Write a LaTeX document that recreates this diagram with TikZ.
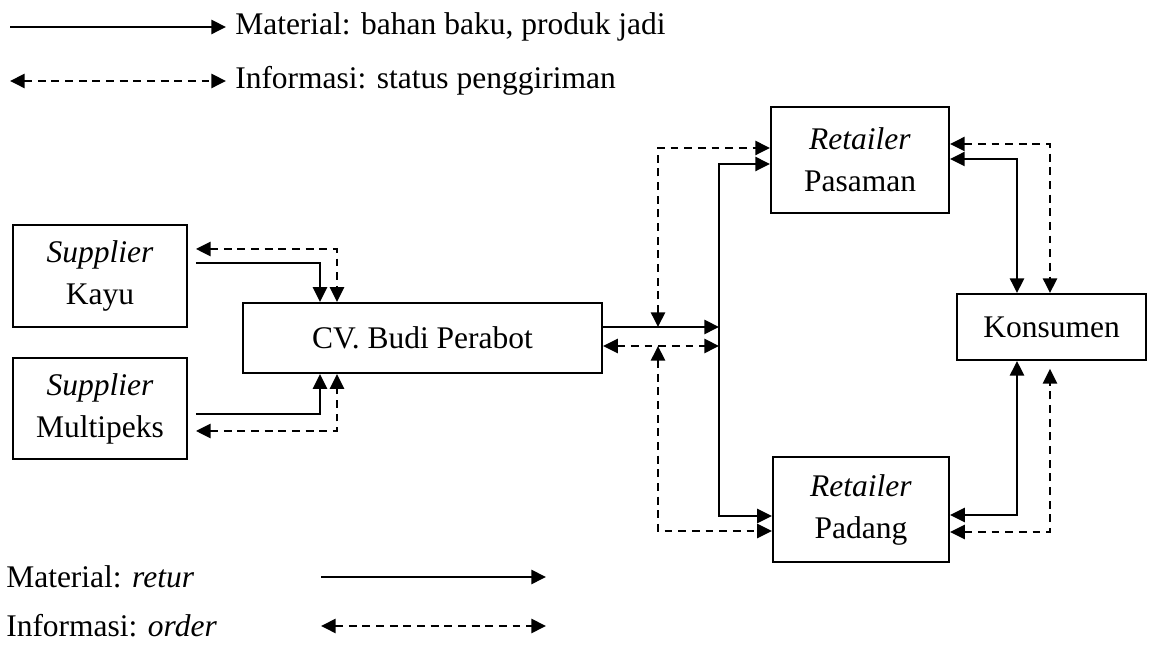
\documentclass[tikz,border=0pt]{standalone}
\usepackage{fontspec}
\setmainfont{Liberation Serif}
\usetikzlibrary{arrows.meta}

\begin{document}
\begin{tikzpicture}
        [
            x = 0.381pt, y = -0.381pt,
            every node/.style = {font = \fontsize{12pt}{16pt}\selectfont},
            box/.style = {draw, line width = 0.8pt, align = center, inner sep = 0pt},
            matflow/.style = {line width = 0.8pt, -{Triangle[length = 5.6pt, width = 5.4pt]}},
            matboth/.style = {line width = 0.8pt, {Triangle[length = 5.6pt, width = 5.4pt]}-{Triangle[length = 5.6pt, width = 5.4pt]}},
            infoflow/.style = {matboth, dash pattern = on 3pt off 2.2pt},
            legend/.style = {anchor = west}
        ]

        \useasboundingbox (0,0) rectangle (1149,646);

        \node[box, minimum width = 66.3pt, minimum height = 38.9pt] (kayu) at (100,276) {\textit{Supplier}\\Kayu};
        \node[box, minimum width = 66.3pt, minimum height = 38.5pt] (multi) at (100,408.5) {\textit{Supplier}\\Multipeks};
        \node[box, minimum width = 136.8pt, minimum height = 26.7pt] (cv) at (422.5,338) {CV. Budi Perabot};
        \node[box, minimum width = 67.8pt, minimum height = 40.4pt] (pasaman) at (860,160) {\textit{Retailer}\\Pasaman};
        \node[box, minimum width = 67.1pt, minimum height = 40pt] (padang) at (861,509.5) {\textit{Retailer}\\Padang};
        \node[box, minimum width = 72pt, minimum height = 25.1pt] (kons) at (1051.5,327) {Konsumen};

        \draw[matflow, shorten <= 3pt] (kayu.east |- 0,263) -| (320,0 |- cv.north);
        \draw[infoflow, shorten <= 3pt] (kayu.east |- 0,249) -| (337,0 |- cv.north);
        \draw[matflow, shorten <= 3pt] (multi.east |- 0,414) -| (320,0 |- cv.south);
        \draw[infoflow, shorten <= 3pt] (multi.east |- 0,431) -| (337,0 |- cv.south);

        \coordinate (jmid) at (719,327);
        \coordinate (dmid) at (719,346);
        \draw[matflow] (cv.east |- jmid) -- (jmid);
        \draw[infoflow] (cv.east |- dmid) -- (dmid);
        \draw[matflow] (jmid) |- (pasaman.west |- 0,164);
        \draw[matflow] (jmid) |- (padang.west |- 0,516);
        \draw[infoflow] (658,0 |- jmid) |- (pasaman.west |- 0,148);
        \draw[infoflow] (658,0 |- dmid) |- (padang.west |- 0,531);

        \draw[matboth] (pasaman.east |- 0,159) -| (1017,0 |- kons.north);
        \draw[infoflow] (pasaman.east |- 0,144) -| (1050,0 |- kons.north);
        \draw[matboth] (padang.east |- 0,515) -| (1017,0 |- kons.south);
        \draw[infoflow, shorten >= 3pt] (padang.east |- 0,532) -| (1050,0 |- kons.south);

        \node[legend] (lgmat) at (226,27) {Material: bahan baku, produk jadi};
        \node[legend] (lginfo) at (226,81) {Informasi: status penggiriman};
        \coordinate (lgmatS) at (10,27);
        \coordinate (lginfoS) at (10,81);
        \draw[matflow] (lgmatS) -- (lgmat.west);
        \draw[infoflow] (lginfoS) -- (lginfo.west);

        \node[legend] (lgretur) at (-3,577) {Material: \textit{retur}};
        \node[legend] (lgorder) at (-3,626) {Informasi: \textit{order}};
        \coordinate (returS) at (321,577);
        \coordinate (returE) at (546,577);
        \coordinate (orderS) at (321,626);
        \coordinate (orderE) at (546,626);
        \draw[matflow] (returS) -- (returE);
        \draw[infoflow] (orderS) -- (orderE);
\end{tikzpicture}
\end{document}
